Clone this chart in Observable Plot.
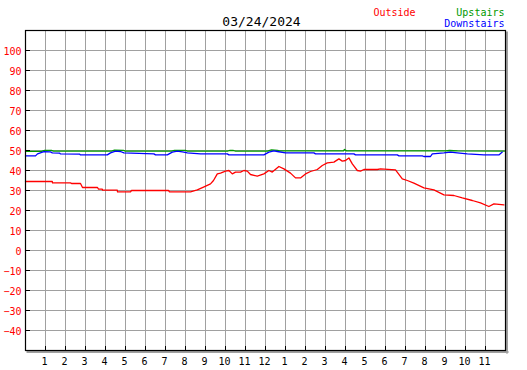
<!DOCTYPE html>
<html><head><meta charset="utf-8">
<script src="https://cdn.jsdelivr.net/npm/d3@7"></script>
<script src="https://cdn.jsdelivr.net/npm/@observablehq/plot@0.6"></script>
<style>body{margin:0;background:#fff}</style>
</head><body><div id="chart"></div>
<script>
const title = "03/24/2024";
const seriesNames = ["Outside", "Upstairs", "Downstairs"];
const hourTicks = [1,2,3,4,5,6,7,8,9,10,11,12,13,14,15,16,17,18,19,20,21,22,23];
const hourLabels = ["1","2","3","4","5","6","7","8","9","10","11","12","1","2","3","4","5","6","7","8","9","10","11"];
const tempTicks = [-40,-30,-20,-10,0,10,20,30,40,50,60,70,80,90,100];

const outsideHours = [0,1.34,1.35,2.25,2.3,2.75,2.85,3.6,3.65,3.84,3.85,4.59,4.6,5.25,5.3,7.15,7.2,8.25,8.59,8.9,9.25,9.4,9.59,9.75,10,10.17,10.34,10.5,10.75,10.92,11.09,11.25,11.59,11.92,12.17,12.34,12.67,12.92,13.25,13.5,13.75,14,14.25,14.59,14.84,15.09,15.42,15.67,15.84,16,16.17,16.34,16.59,16.75,16.92,17.59,17.75,18.5,18.84,19.09,19.42,19.92,20.42,20.92,21.42,21.84,22.34,22.75,23.17,23.42,23.92];
const outsideTemps = [34.5,34.5,33.8,33.8,33.5,33.5,31.5,31.5,30.7,30.7,30.2,30.2,29.3,29.3,30,30,29.3,29.3,30.3,31.7,33.3,35,38.3,38.7,39.7,40,38.3,39.2,39.2,40,39.7,38,37.2,38.3,40,39.2,42,40.8,38.7,36.3,36.3,38.3,39.5,40.5,42.5,43.8,44.2,45.8,44.7,45,46.3,43.3,40,39.7,40.5,40.5,40.8,40.3,35.8,35,33.7,31.3,30.3,27.8,27.5,26.3,25,23.8,22,23.3,22.8];

const upstairsHours = [0,0.8,0.95,1.3,1.4,4.3,4.45,4.9,5,7.3,7.45,8,8.1,10.1,10.2,10.4,10.5,12.1,12.3,12.6,12.7,15.9,15.95,16.05,21,21.2,21.6,23.95];
const upstairsTemps = [49.6,49.6,50.1,50.1,49.7,49.7,50.2,50.1,49.7,49.7,50.1,50.1,49.7,49.7,50,50,49.7,49.7,50.3,50.1,49.8,49.8,50.5,49.8,49.8,50,49.8,49.7];

const downstairsHours = [0,0.5,0.6,0.92,1.25,1.34,1.7,1.75,2.7,2.75,4.09,4.25,4.5,4.75,4.92,6.42,6.5,7.09,7.34,7.59,7.92,8.09,8.75,10.09,10.17,11.92,12.17,12.42,12.59,13,14.42,14.5,16.42,16.5,18.59,18.67,19.84,19.92,20.25,20.34,20.92,21.25,21.59,22.09,22.92,23.67,23.84];
const downstairsTemps = [47.3,47.3,48.3,49.4,49.3,48.8,48.7,48.3,48.2,47.8,47.8,48.8,49.7,49.5,48.8,48.3,47.8,47.8,49.2,49.7,49.2,48.8,48.3,48.3,47.8,47.8,49.2,49.8,49.5,48.8,48.8,48.3,48.3,47.8,47.8,47.3,47.3,47,47,48.3,48.8,49.2,48.8,48.3,47.8,47.8,49.2];

const toRows = (hs, vs) => hs.map((h, i) => ({h, v: vs[i]}));
const outside = toRows(outsideHours, outsideTemps);
const upstairs = toRows(upstairsHours, upstairsTemps);
const downstairs = toRows(downstairsHours, downstairsTemps);

const RED = "#ff0000", GREEN = "#009900", BLUE = "#0000ff", GRID = "#a0a0a0";

const chart = Plot.plot({
  width: 527, height: 370,
  marginLeft: 25, marginRight: 22, marginTop: 30, marginBottom: 20,
  x: {domain: [0, 24]},
  y: {domain: [-50, 110]},
  style: {fontFamily: "DejaVu Sans Mono", fontSize: "10px", background: "white", color: "black"},
  marks: [
    Plot.ruleX(hourTicks, {stroke: GRID, strokeWidth: 1}),
    Plot.ruleY(tempTicks, {stroke: GRID, strokeWidth: 1}),
    Plot.frame({anchor: "right", stroke: GRID, strokeWidth: 2, dx: 1.5, dy: 2}),
    Plot.frame({anchor: "bottom", stroke: GRID, strokeWidth: 2, dx: 2, dy: 1.5}),
    Plot.line(outside, {x: "h", y: "v", stroke: RED, strokeWidth: 1.3}),
    Plot.line(upstairs, {x: "h", y: "v", stroke: GREEN, strokeWidth: 1.3}),
    Plot.line(downstairs, {x: "h", y: "v", stroke: BLUE, strokeWidth: 1.3}),
    Plot.frame({stroke: "black", strokeWidth: 1.2}),
    Plot.axisY(tempTicks, {tickSize: 5, dx: 5, tickFormat: () => "", label: null}),
    Plot.axisY(tempTicks, {tickSize: 0, tickPadding: 4, dy: 1, fill: RED, label: null}),
    Plot.axisX(hourTicks, {tickSize: 4, dy: -4, tickFormat: () => "", label: null}),
    Plot.axisX(hourTicks, {tickSize: 0, tickPadding: 7, dx: -1, fill: "black", label: null,
      tickFormat: d => hourLabels[hourTicks.indexOf(d)]}),
    Plot.text([title], {text: d => d, frameAnchor: "top", lineAnchor: "bottom", dx: -4, dy: -5, fontSize: 13, fill: "black"}),
    Plot.text([seriesNames[0]], {text: d => d, frameAnchor: "top-right", textAnchor: "start", lineAnchor: "bottom", dx: -132, dy: -15, fill: RED}),
    Plot.text([seriesNames[1]], {text: d => d, frameAnchor: "top-right", textAnchor: "end", lineAnchor: "bottom", dx: -1, dy: -15, fill: GREEN}),
    Plot.text([seriesNames[2]], {text: d => d, frameAnchor: "top-right", textAnchor: "end", lineAnchor: "bottom", dx: -1, dy: -3.5, fill: BLUE})
  ]
});
document.getElementById("chart").appendChild(chart);
</script>
</body></html>
